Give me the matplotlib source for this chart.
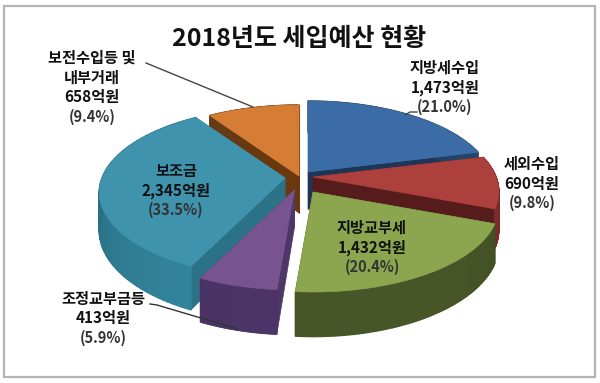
import numpy as np
import matplotlib
matplotlib.use("Agg")
import matplotlib.pyplot as plt
from matplotlib.collections import PolyCollection
from matplotlib.patches import Polygon, Rectangle

plt.rcParams['font.family'] = ['Noto Sans CJK KR', 'DejaVu Sans']

# data
categories = [["지방세수입"], ["세외수입"], ["지방교부세"], ["조정교부금등"], ["보조금"], ["보전수입등 및", "내부거래"]]
amounts = [1473, 690, 1432, 413, 2345, 658]
amount_labels = ["1,473억원", "690억원", "1,432억원", "413억원", "2,345억원", "658억원"]
percent_labels = ["(21.0%)", "(9.8%)", "(20.4%)", "(5.9%)", "(33.5%)", "(9.4%)"]
title = "2018년도 세입예산 현황"

# slice styling, same order as the data
top_colors = ["#3b6ca6", "#ad3f3c", "#8ba64e", "#77548f", "#3f93ad", "#d67d35"]
rim_colors = ["#2a4d78", "#7a2a28", "#414e24", "#46305f", "#2f7d94", "#8a4e1e"]
cut_colors = ["#1d3658", "#561c1c", "#414e24", "#4f3669", "#2c7286", "#69380f"]
apexes = [(308, 172), (313, 177), (313, 192), (294.5, 190), (285, 178), (299, 176)]
label_pos = [(445, 68), (532, 164), (372, 228), (103, 299), (176, 171), (92, 58)]
draw_order = [5, 0, 1, 4, 3, 2]

# pie projection in pixels
RX, RY, PERSP, DEPTH = 183, 83, 0.17, 37
LINE_H = 19.5


def project(deg, apex):
    rad = np.radians(deg)
    s = 1 / (1 + PERSP * np.cos(rad))
    return apex[0] + RX * np.sin(rad) * s, apex[1] - RY * np.cos(rad) * s, s


def shade(color, f):
    rgb = np.array(matplotlib.colors.to_rgb(color)) * f
    return tuple(np.clip(rgb, 0, 1))


def draw_slice(ax, start, end, idx):
    apex = apexes[idx]
    angles = np.linspace(start, end, 80)
    x, y, s = project(angles, apex)

    # cut faces
    for i in (0, -1):
        cut = [apex, (x[i], y[i]), (x[i], y[i] + DEPTH * s[i]), (apex[0], apex[1] + DEPTH)]
        ax.add_patch(Polygon(cut, closed=True, fc=cut_colors[idx], ec=cut_colors[idx], lw=0.5))

    # outer wall, a bit lighter toward the front
    quads, cols = [], []
    for i in range(len(x) - 1):
        quads.append([(x[i], y[i]), (x[i + 1], y[i + 1]),
                      (x[i + 1], y[i + 1] + DEPTH * s[i + 1]), (x[i], y[i] + DEPTH * s[i])])
        cols.append(shade(rim_colors[idx], 0.92 + 0.18 * np.cos(np.radians(angles[i] - 165))))
    ax.add_collection(PolyCollection(quads, facecolors=cols, edgecolors=cols, linewidths=1.0))

    # top face
    pts = [apex] + list(zip(x, y))
    ax.add_patch(Polygon(pts, closed=True, fc=top_colors[idx], ec=top_colors[idx], lw=0.5))


def main():
    fig = plt.figure(figsize=(6, 3.83), dpi=100)
    ax = fig.add_axes([0, 0, 1, 1])
    ax.set_xlim(0, 600)
    ax.set_ylim(383, 0)
    ax.axis("off")

    ax.add_patch(Rectangle((4, 6), 591, 371, fc="white", ec="#b4b4b4", lw=1.6))

    ax.text(299, 39, title, ha="center", va="center", fontsize=18, fontweight="bold", color="#111111")

    fracs = np.array(amounts) / sum(amounts)
    edges = np.concatenate([[0], np.cumsum(fracs) * 360])
    for idx in draw_order:
        draw_slice(ax, edges[idx], edges[idx + 1], idx)

    # leader lines
    ax.plot([146, 253], [63, 107], color="#444444", lw=1)
    ax.plot([417, 410, 405], [112, 112, 115], color="#444444", lw=1)
    ax.plot([150, 157, 238], [304, 305, 329], color="#333333", lw=1)

    for i in range(len(amounts)):
        x, y = label_pos[i]
        lines = categories[i] + [amount_labels[i]]
        for n, line in enumerate(lines):
            ax.text(x, y + n * LINE_H, line, ha="center", va="center",
                    fontsize=11, fontweight="bold", color="#111111")
        ax.text(x, y + len(lines) * LINE_H, percent_labels[i], ha="center", va="center",
                fontsize=10.5, fontweight="bold", color="#333333")

    fig.savefig("out.png", dpi=100)


if __name__ == "__main__":
    main()
